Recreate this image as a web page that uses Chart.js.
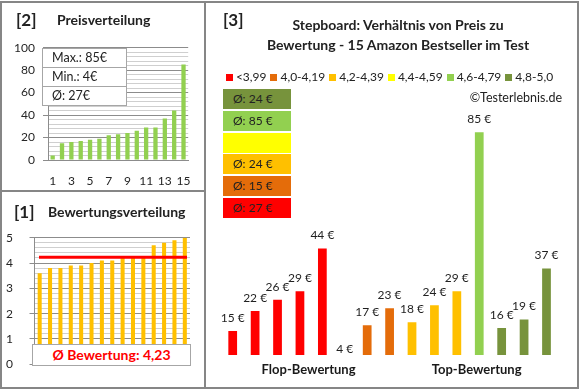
<!DOCTYPE html>
<html>
<head>
<meta charset="utf-8">
<script src="https://cdn.jsdelivr.net/npm/chart.js@4.4.1/dist/chart.umd.min.js"></script>
<style>
  body { margin: 0; background: #fff; font-family: Lato, "Open Sans", sans-serif; color: #222; }
  #frame { position: absolute; left: 0; top: 1px; width: 575px; height: 384px; border: 2px solid #868686; z-index: 5; }
  .rule { position: absolute; background: #868686; z-index: 5; }
  canvas { position: absolute; }
  .txt { position: absolute; white-space: nowrap; z-index: 6; }
  .tag { font-weight: bold; font-size: 17px; line-height: 20px; }
  .head { font-weight: bold; font-size: 14px; line-height: 20px; }
  #statBox { position: absolute; left: 42px; top: 48px; width: 83px; border: 1px solid #a6a6a6; background: #fff; z-index: 6; }
  #statBox div { height: 18px; line-height: 18px; padding-left: 9px; font-size: 12.5px; border-top: 1px solid #a6a6a6; }
  #statBox div:first-child { border-top: none; }
  #avgBox { position: absolute; left: 32px; top: 344px; width: 157px; height: 20px; line-height: 20px; border: 1px solid #a6a6a6; background: #fff;
            color: #ff0000; font-weight: bold; font-size: 14px; text-align: center; z-index: 6; }
  #mainTitle { left: 248px; top: 15px; width: 300px; text-align: center; font-weight: bold; font-size: 14px; line-height: 20px; }
  #legend { position: absolute; left: 204px; top: 69px; width: 371px; text-align: center; font-size: 12px; line-height: 16px; z-index: 6; }
  #legend span.item { margin: 0 2px; }
  #legend span.sw { display: inline-block; width: 7px; height: 7px; margin-right: 3px; }
  .classBox { position: absolute; left: 223px; width: 68px; height: 20px; line-height: 20px; padding-left: 10px; box-sizing: border-box; font-size: 12px; z-index: 6; }
</style>
</head>
<body>
<div id="frame"></div>
<div class="rule" style="left:204px; top:1px; width:2px; height:388px;"></div>
<div class="rule" style="left:0; top:190px; width:205px; height:2px;"></div>

<canvas id="priceChart" width="205" height="190" style="left:0; top:0;"></canvas>
<canvas id="ratingChart" width="205" height="196" style="left:0; top:192px;"></canvas>
<canvas id="mainChart" width="371" height="384" style="left:206px; top:3px;"></canvas>

<div class="txt tag" style="left:16px; top:10px;">[2]</div>
<div class="txt head" style="left:57px; top:10px;">Preisverteilung</div>
<div class="txt tag" style="left:14px; top:202px;">[1]</div>
<div class="txt head" style="left:48px; top:202px;">Bewertungsverteilung</div>
<div class="txt tag" style="left:223px; top:10px;">[3]</div>
<div class="txt" id="mainTitle">Stepboard: Verhältnis von Preis zu<br>Bewertung - 15 Amazon Bestseller im Test</div>
<div id="legend"></div>
<div class="txt" style="left:400px; top:90px; width:162px; text-align:right; font-size:12.5px; line-height:16px;">©Testerlebnis.de</div>
<div id="statBox"></div>
<div id="avgBox"></div>
<div id="classBoxes"></div>

<script>
// panel [2]: prices sorted ascending
const sortedPrices = [4, 15, 16, 17, 18, 19, 22, 23, 24, 26, 29, 29, 37, 44, 85];
// panel [1]: ratings sorted ascending (same order as the main chart)
const ratings = [3.6, 3.8, 3.8, 3.9, 3.9, 4.0, 4.1, 4.1, 4.2, 4.2, 4.2, 4.7, 4.8, 4.9, 5.0];
const avgRating = 4.23;
// panel [3]: price of each product in rating order
const prices = [15, 22, 26, 29, 44, 4, 17, 23, 18, 24, 29, 85, 16, 19, 37];
const productNos = [1, 2, 3, 4, 5, 6, 7, 8, 9, 10, 11, 12, 13, 14, 15];
const groupLabels = ["Flop-Bewertung", "Top-Bewertung"];

// rating classes
const classLabels = ["<3,99", "4,0-4,19", "4,2-4,39", "4,4-4,59", "4,6-4,79", "4,8-5,0"];
const classFrom = [0, 4.0, 4.2, 4.4, 4.6, 4.8];
const classColors = ["#ff0000", "#e46c0a", "#ffc000", "#ffff00", "#92d050", "#77933c"];

Chart.defaults.font.family = "Lato, 'Open Sans', sans-serif";
Chart.defaults.color = "#262626";
Chart.defaults.animation = false;

function classOf(r) {
  let c = 0;
  classFrom.forEach((f, i) => { if (r >= f - 1e-9) c = i; });
  return c;
}
const fmt = n => String(n).replace(".", ",");

// --- HTML bits: legend, stat box, class averages
const legend = document.getElementById("legend");
classLabels.forEach((lab, i) => {
  legend.innerHTML += `<span class="item"><span class="sw" style="background:${classColors[i]}"></span>${lab}</span>`;
});

const avgPrice = Math.round(sortedPrices.reduce((a, b) => a + b, 0) / sortedPrices.length);
document.getElementById("statBox").innerHTML =
  `<div>Max.: ${Math.max(...sortedPrices)}€</div><div>Min.: ${Math.min(...sortedPrices)}€</div><div>Ø: ${avgPrice}€</div>`;
document.getElementById("avgBox").textContent = "Ø Bewertung: " + fmt(avgRating);

const boxes = document.getElementById("classBoxes");
for (let k = classLabels.length - 1, row = 0; k >= 0; k--, row++) {
  const inClass = prices.filter((p, i) => classOf(ratings[i]) === k);
  const txt = inClass.length ? `Ø: ${Math.round(inClass.reduce((a, b) => a + b, 0) / inClass.length)} €` : "";
  boxes.innerHTML += `<div class="classBox" style="top:${89 + row * 21.8}px; background:${classColors[k]}">${txt}</div>`;
}

// grid helpers
const isMajor = (v, step) => Math.abs(v / step - Math.round(v / step)) < 1e-6;
const majorGrid = (step) => (ctx) => isMajor(ctx.tick.value, step) ? "#8c8c8c" : "#cfcfcf";
const majorTick = (step) => (ctx) => isMajor(ctx.tick.value, step) ? "#8c8c8c" : "rgba(0,0,0,0)";

// Chart [2]: Preisverteilung
new Chart(document.getElementById("priceChart"), {
  type: "bar",
  data: {
    labels: productNos,
    datasets: [{ data: sortedPrices, backgroundColor: "#92d050", barPercentage: 0.46, categoryPercentage: 1 }]
  },
  options: {
    responsive: false,
    layout: { padding: { left: 0, right: 15.5, top: 47.7, bottom: 0 } },
    plugins: { legend: { display: false }, tooltip: { enabled: false } },
    scales: {
      x: {
        grid: { display: false, drawTicks: false },
        border: { color: "#8c8c8c" },
        ticks: { autoSkip: false, maxRotation: 0, padding: 14, font: { size: 12 },
                 callback: (v, i) => i % 2 === 0 ? productNos[i] : "" },
        afterFit: s => { s.height = 30; }
      },
      y: {
        min: 0, max: 100,
        border: { color: "#8c8c8c" },
        grid: { color: majorGrid(20), tickColor: majorTick(20), tickLength: 5 },
        ticks: { stepSize: 4, autoSkip: false, padding: 8, font: { size: 12 },
                 callback: v => isMajor(v, 20) ? Math.round(v) : "" },
        afterFit: s => { s.width = 48; }
      }
    }
  }
});

// red average line for chart [1]
const avgLine = {
  id: "avgLine",
  afterDatasetsDraw(chart) {
    const { ctx, chartArea, scales } = chart;
    const y = scales.y.getPixelForValue(avgRating);
    ctx.save();
    ctx.strokeStyle = "#ff0000";
    ctx.lineWidth = 3;
    ctx.beginPath();
    ctx.moveTo(chartArea.left + 4.5, y);
    ctx.lineTo(chartArea.right - 3, y);
    ctx.stroke();
    ctx.restore();
  }
};

// Chart [1]: Bewertungsverteilung
new Chart(document.getElementById("ratingChart"), {
  type: "bar",
  data: {
    labels: productNos,
    datasets: [{ data: ratings, backgroundColor: "#ffc000", barPercentage: 0.39, categoryPercentage: 1 }]
  },
  options: {
    responsive: false,
    layout: { padding: { left: 0, right: 15, top: 45.7, bottom: 0 } },
    plugins: { legend: { display: false }, tooltip: { enabled: false } },
    scales: {
      x: {
        grid: { display: false, drawTicks: false },
        border: { display: false },
        ticks: { display: false },
        afterFit: s => { s.height = 15.3; }
      },
      y: {
        min: 0, max: 5,
        border: { color: "#8c8c8c" },
        grid: { color: majorGrid(1), tickColor: majorTick(1), tickLength: 5 },
        ticks: { stepSize: 0.2, autoSkip: false, padding: 16.5, font: { size: 12 },
                 callback: v => isMajor(v, 1) ? Math.round(v) : "" },
        afterFit: s => { s.width = 34.5; }
      }
    }
  },
  plugins: [avgLine]
});

// price labels above bars in chart [3]
const barLabels = {
  id: "barLabels",
  afterDatasetsDraw(chart) {
    const ctx = chart.ctx;
    ctx.save();
    ctx.font = "12px Lato, 'Open Sans', sans-serif";
    ctx.fillStyle = "#1f1f1f";
    ctx.textAlign = "center";
    ctx.textBaseline = "middle";
    chart.getDatasetMeta(0).data.forEach((bar, i) => {
      ctx.fillText(prices[i] + " €", bar.x, bar.y - 13);
    });
    ctx.restore();
  }
};

// Chart [3]: Preis vs. Bewertung
new Chart(document.getElementById("mainChart"), {
  type: "bar",
  data: {
    labels: productNos,
    datasets: [{
      data: prices,
      backgroundColor: ratings.map(r => classColors[classOf(r)]),
      barPercentage: 0.39,
      categoryPercentage: 1,
      xAxisID: "x"
    }]
  },
  options: {
    responsive: false,
    layout: { padding: { left: 15.5, right: 19.3, top: 86.7, bottom: 0 } },
    plugins: { legend: { display: false }, tooltip: { enabled: false } },
    scales: {
      x: { display: false },
      x2: {
        type: "category",
        labels: groupLabels,
        position: "bottom",
        grid: { display: false, drawTicks: false },
        border: { display: false },
        ticks: { padding: 7, labelOffset: 3, color: "#1a1a1a", font: { size: 13, weight: "bold" } },
        afterFit: s => { s.height = 32; }
      },
      y: { display: false, min: 6.5, max: 100 }
    }
  },
  plugins: [barLabels]
});
</script>
</body>
</html>
